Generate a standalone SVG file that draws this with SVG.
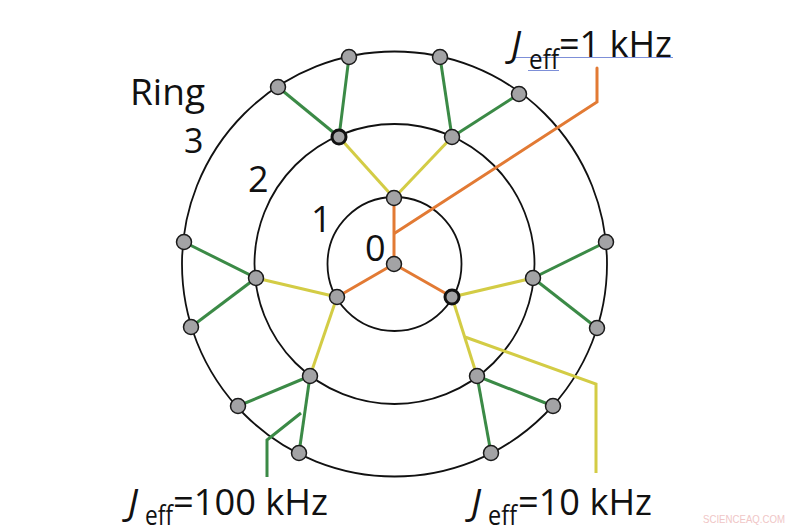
<svg xmlns="http://www.w3.org/2000/svg" width="800" height="530" viewBox="0 0 800 530">
<style>
.ring{fill:none;stroke:#111;stroke-width:1.8}
.o{stroke:#e27a34;stroke-width:3;fill:none;stroke-linecap:round;stroke-linejoin:miter}
.y{stroke:#d3cc45;stroke-width:3;fill:none;stroke-linejoin:miter}
.g{stroke:#3b8a46;stroke-width:3;fill:none;stroke-linejoin:miter}
.n{fill:#a3a3a5;stroke:#1a1a1a;stroke-width:1.5}
.nb{fill:#a3a3a5;stroke:#111;stroke-width:3}
.t{font-family:"Open Sans","Noto Sans",sans-serif;fill:#111}
.ul{stroke:#7d8fd8;stroke-width:1}
</style>
<rect width="800" height="530" fill="#fff"/>
<g id="rings">
<circle class="ring" cx="394.5" cy="264" r="67"/>
<circle class="ring" cx="394.5" cy="264" r="140"/>
<circle class="ring" cx="394.5" cy="264" r="212.5"/>
</g>
<g id="connectors">
<line class="o" x1="394" y1="264" x2="394" y2="198"/>
<line class="o" x1="394" y1="264" x2="337" y2="297"/>
<line class="o" x1="394" y1="264" x2="452" y2="297"/>
<line class="y" x1="394" y1="198" x2="339" y2="137"/>
<line class="y" x1="394" y1="198" x2="452" y2="137"/>
<line class="y" x1="337" y1="297" x2="256" y2="278"/>
<line class="y" x1="337" y1="297" x2="310" y2="376"/>
<line class="y" x1="452" y1="297" x2="533" y2="278"/>
<line class="y" x1="452" y1="297" x2="477" y2="376"/>
<line class="g" x1="339" y1="137" x2="349" y2="57"/>
<line class="g" x1="339" y1="137" x2="278" y2="87"/>
<line class="g" x1="452" y1="137" x2="440" y2="57"/>
<line class="g" x1="452" y1="137" x2="519" y2="94"/>
<line class="g" x1="256" y1="278" x2="184" y2="242"/>
<line class="g" x1="256" y1="278" x2="191" y2="327"/>
<line class="g" x1="533" y1="278" x2="606" y2="242"/>
<line class="g" x1="533" y1="278" x2="597" y2="328"/>
<line class="g" x1="310" y1="376" x2="238" y2="406"/>
<line class="g" x1="310" y1="376" x2="299" y2="453"/>
<line class="g" x1="477" y1="376" x2="553" y2="406"/>
<line class="g" x1="477" y1="376" x2="491" y2="453"/>
<polyline class="o" points="395,233 597,102 597,68"/>
<polyline class="y" points="465,337 596,384 596,473"/>
<polyline class="g" points="301,413 267,440 267,477"/>
</g>
<g id="nodes">
<g id="n0"><circle class="n" cx="394" cy="264" r="7.5"/></g>
<g id="n1a"><circle class="n" cx="394" cy="198" r="7.5"/></g>
<g id="n1b"><circle class="n" cx="337" cy="297" r="7.5"/></g>
<g id="n1c"><circle class="nb" cx="452" cy="297" r="7"/></g>
<g id="n2a"><circle class="nb" cx="339" cy="137" r="7"/></g>
<g id="n2b"><circle class="n" cx="452" cy="137" r="7.5"/></g>
<g id="n2c"><circle class="n" cx="256" cy="278" r="7.5"/></g>
<g id="n2d"><circle class="n" cx="533" cy="278" r="7.5"/></g>
<g id="n2e"><circle class="n" cx="310" cy="376" r="7.5"/></g>
<g id="n2f"><circle class="n" cx="477" cy="376" r="7.5"/></g>
<g id="n3a"><circle class="n" cx="349" cy="57" r="7.5"/></g>
<g id="n3b"><circle class="n" cx="278" cy="87" r="7.5"/></g>
<g id="n3c"><circle class="n" cx="440" cy="57" r="7.5"/></g>
<g id="n3d"><circle class="n" cx="519" cy="94" r="7.5"/></g>
<g id="n3e"><circle class="n" cx="184" cy="242" r="7.5"/></g>
<g id="n3f"><circle class="n" cx="191" cy="327" r="7.5"/></g>
<g id="n3g"><circle class="n" cx="606" cy="242" r="7.5"/></g>
<g id="n3h"><circle class="n" cx="597" cy="328" r="7.5"/></g>
<g id="n3i"><circle class="n" cx="238" cy="406" r="7.5"/></g>
<g id="n3j"><circle class="n" cx="299" cy="453" r="7.5"/></g>
<g id="n3k"><circle class="n" cx="553" cy="406" r="7.5"/></g>
<g id="n3l"><circle class="n" cx="491" cy="453" r="7.5"/></g>
</g>
<g id="labels">
<text class="t" x="130" y="105" font-size="37" textLength="75">Ring</text>
<text class="t" x="184" y="153" font-size="34">3</text>
<text class="t" x="248" y="192" font-size="36">2</text>
<text class="t" x="311" y="232" font-size="36">1</text>
<text class="t" x="365" y="261" font-size="36">0</text>
<g id="label-1k">
<line class="ul" x1="513" y1="57.5" x2="673" y2="57.5"/>
<line class="ul" x1="528" y1="70.5" x2="559" y2="70.5"/>
<text class="t" x="511" y="57" font-size="37" font-style="italic">J</text>
<text class="t" x="529" y="69" font-size="27" textLength="30" lengthAdjust="spacingAndGlyphs">eff</text>
<text class="t" x="559" y="57" font-size="37" textLength="113" lengthAdjust="spacingAndGlyphs">=1 kHz</text>
</g>
<g id="label-100k">
<text class="t" x="128" y="515" font-size="37" font-style="italic">J</text>
<text class="t" x="145" y="525" font-size="27" textLength="28" lengthAdjust="spacingAndGlyphs">eff</text>
<text class="t" x="173" y="515" font-size="37" textLength="155" lengthAdjust="spacingAndGlyphs">=100 kHz</text>
</g>
<g id="label-10k">
<text class="t" x="471" y="515" font-size="37" font-style="italic">J</text>
<text class="t" x="488" y="525" font-size="27" textLength="29" lengthAdjust="spacingAndGlyphs">eff</text>
<text class="t" x="518" y="515" font-size="37" textLength="134" lengthAdjust="spacingAndGlyphs">=10 kHz</text>
</g>
<text x="703" y="523" font-family="'Liberation Sans',sans-serif" font-size="10.5" fill="#f0c6c6" textLength="82" lengthAdjust="spacingAndGlyphs">SCIENCEAQ.COM</text>
</g>
</svg>
